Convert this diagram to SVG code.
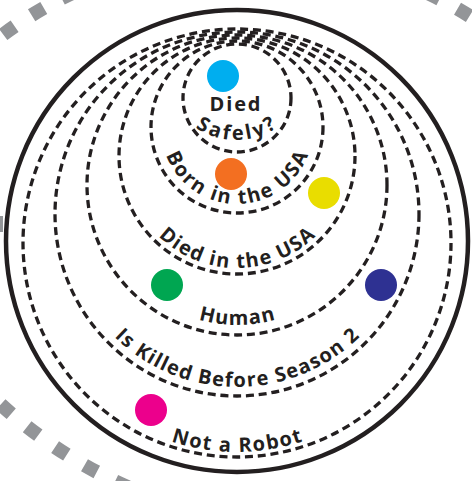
<svg xmlns="http://www.w3.org/2000/svg" width="472" height="481" viewBox="0 0 472 481">
<defs>
<style>
.gray{fill:none;stroke:#939598;stroke-width:14}
.set{fill:none;stroke:#231F20;stroke-width:3.3;stroke-dasharray:8 4.8}
.outer{fill:none;stroke:#231F20;stroke-width:4.5}
.lbl{font-family:"Open Sans","Noto Sans","DejaVu Sans",sans-serif;font-weight:700;font-size:20px;fill:#231F20}
</style>
<path id="p-safely" d="M163,67 A73,73 0 0 0 309,67"/>
<path id="p-born" d="M161,128 A76,76 0 0 0 313,128"/>
<path id="p-diedusa" d="M124,155 A113,113 0 0 0 350,155"/>
<path id="p-human" d="M97,185 A140,140 0 0 0 377,185"/>
<path id="p-killed" d="M62,212 A175,175 0 0 0 412,212"/>
<path id="p-robot" d="M28,243 A209,209 0 0 0 446,243"/>
</defs>
<rect width="472" height="481" fill="#ffffff"/>
<g id="background-arcs">
<path class="gray" d="M-48.4,79.7 A415,415 0 0 1 543.4,74.6" stroke-dasharray="14 20.38"/>
<path class="gray" d="M-46.7,354.3 A468,468 0 0 0 234.7,519.4" stroke-dasharray="14 20.55"/>
<rect x="-11" y="216" width="14" height="16" fill="#939598"/>
</g>
<g id="universe">
<circle class="outer" cx="237" cy="241" r="231"/>
</g>
<g id="set-not-a-robot">
<circle class="set" cx="237" cy="243" r="214"/>
<text class="lbl" text-anchor="middle"><textPath href="#p-robot" startOffset="50%" textLength="134" lengthAdjust="spacing">Not a Robot</textPath></text>
</g>
<g id="set-killed-before-season-2">
<circle class="set" cx="237" cy="214" r="182"/>
<text class="lbl" text-anchor="middle"><textPath href="#p-killed" startOffset="50%" textLength="272" lengthAdjust="spacing">Is Killed Before Season 2</textPath></text>
</g>
<g id="set-human">
<circle class="set" cx="237" cy="185" r="150"/>
<text class="lbl" text-anchor="middle"><textPath href="#p-human" startOffset="50%" textLength="78" lengthAdjust="spacing">Human</textPath></text>
</g>
<g id="set-died-in-the-usa">
<circle class="set" cx="237" cy="156" r="118"/>
<text class="lbl" text-anchor="middle"><textPath href="#p-diedusa" startOffset="50%" textLength="174" lengthAdjust="spacing">Died in the USA</textPath></text>
</g>
<g id="set-born-in-the-usa">
<circle class="set" cx="237" cy="127" r="86"/>
<text class="lbl" text-anchor="middle"><textPath href="#p-born" startOffset="50%" textLength="183" lengthAdjust="spacing">Born in the USA</textPath></text>
</g>
<g id="set-died-safely">
<circle class="set" cx="237" cy="98" r="54"/>
<text class="lbl" x="235" y="111" text-anchor="middle" textLength="51" lengthAdjust="spacing">Died</text>
<text class="lbl" text-anchor="middle"><textPath href="#p-safely" startOffset="50%" textLength="86" lengthAdjust="spacing">Safely?</textPath></text>
</g>
<g id="dot-cyan"><circle cx="223" cy="76" r="16" fill="#00AEEF"/></g>
<g id="dot-orange"><circle cx="231" cy="174" r="16" fill="#F36F21"/></g>
<g id="dot-yellow"><circle cx="324" cy="193" r="16" fill="#E9DD00"/></g>
<g id="dot-green"><circle cx="167" cy="285" r="16" fill="#00A651"/></g>
<g id="dot-navy"><circle cx="381" cy="285" r="16" fill="#2E3192"/></g>
<g id="dot-magenta"><circle cx="151" cy="410" r="16" fill="#EC008C"/></g>
<g id="connectors"/>
</svg>
